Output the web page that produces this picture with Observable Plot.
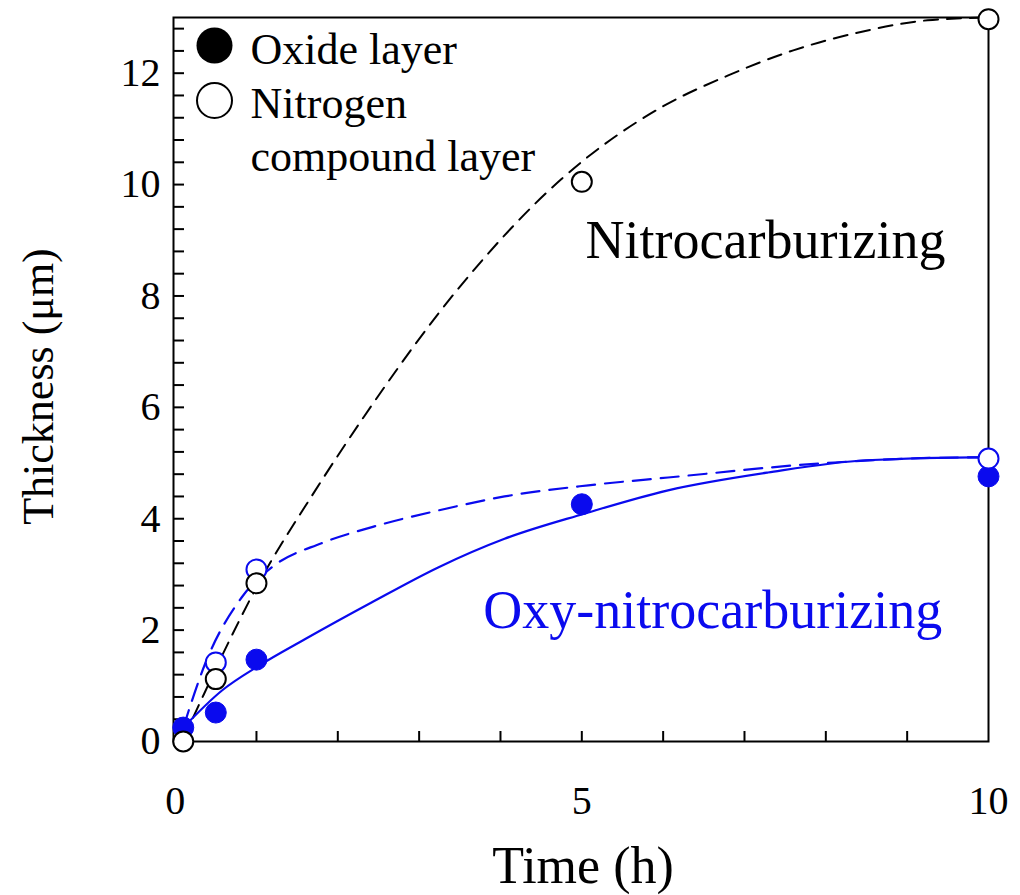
<!DOCTYPE html>
<html>
<head>
<meta charset="utf-8">
<script src="https://cdn.jsdelivr.net/npm/d3@7"></script>
<script src="https://cdn.jsdelivr.net/npm/@observablehq/plot@0.6"></script>
<style>
  html, body { margin: 0; padding: 0; background: #fff; }
</style>
</head>
<body>
<div id="chart"></div>
<script>
// ---- measured points ----
const oxideTime = [0.1, 0.5, 1, 5, 10];
const oxideThickness = [0.25, 0.52, 1.47, 4.26, 4.76];

const oxyCompoundTime = [0.5, 1, 10];
const oxyCompoundThickness = [1.42, 3.09, 5.08];

const nitroCompoundTime = [0.1, 0.5, 1, 5, 10];
const nitroCompoundThickness = [0, 1.12, 2.84, 10.05, 12.97];

// ---- fitted curves ----
const nitroFitTime = [0.1, 0.3, 0.58, 1.03, 1.72, 2.33, 3.52, 4.75, 5.98, 6.8, 7.6, 8.43, 9.25, 10];
const nitroFitThickness = [0.05, 0.68, 1.55, 2.85, 4.5, 5.85, 8.2, 10.1, 11.39, 11.96, 12.41, 12.74, 12.95, 13.0];

const oxyCompoundFitTime = [0.1, 0.37, 0.82, 1.19, 1.8, 2.42, 3.24, 4.05, 5.08, 6.06, 8.1, 9.74, 10];
const oxyCompoundFitThickness = [0.25, 1.4, 2.59, 3.13, 3.56, 3.85, 4.15, 4.4, 4.6, 4.74, 5.01, 5.1, 5.1];

const oxideFitTime = [0.1, 0.58, 1.03, 1.6, 2.42, 3.24, 4.05, 5.03, 6.06, 7.29, 8.5, 9.82, 10];
const oxideFitThickness = [0.25, 0.92, 1.36, 1.84, 2.5, 3.13, 3.64, 4.09, 4.51, 4.83, 5.05, 5.1, 5.1];

// ---- ticks and labels ----
const xTickLabels = [0, 5, 10];
const xMinorTicks = [1, 2, 3, 4, 5, 6, 7, 8, 9];
const yTickLabels = [0, 2, 4, 6, 8, 10, 12];
const yMinorTicks = d3.range(1, 33).map(i => i * 0.4);

const xTitle = "Time (h)";
const yTitle = "Thickness (μm)";
const legendLabels = ["Oxide layer", "Nitrogen", "compound layer"];
const annotationLabels = ["Nitrocarburizing", "Oxy-nitrocarburizing"];

const blue = "#0a0aee";
const serif = "'Liberation Serif', 'Times New Roman', Times, serif";

const zip = (xs, ys) => xs.map((x, i) => ({time: x, thickness: ys[i]}));

const chart = Plot.plot({
  width: 1020,
  height: 895,
  marginLeft: 173,
  marginRight: 32,
  marginTop: 17,
  marginBottom: 154,
  x: {domain: [-0.02, 10], label: null},
  y: {domain: [0, 13], label: null},
  style: {fontFamily: serif, background: "#fff", color: "#000"},
  marks: [
    Plot.frame({stroke: "#000", strokeWidth: 2}),
    Plot.tickY(yMinorTicks, {y: d => d, insetRight: 815 - 11, stroke: "#000", strokeWidth: 2}),
    Plot.tickX(xMinorTicks, {x: d => d, insetTop: 724 - 10, stroke: "#000", strokeWidth: 2}),
    Plot.axisX(xTickLabels, {tickSize: 0, tickPadding: 44, fontSize: 40, label: null, tickFormat: d => String(d)}),
    Plot.axisY(yTickLabels, {tickSize: 0, tickPadding: 13, fontSize: 40, label: null, tickFormat: d => String(d)}),
    Plot.text([xTitle], {text: d => d, frameAnchor: "bottom", lineAnchor: "bottom", textAnchor: "middle", dx: 2, dy: 141, fontSize: 52, fill: "#000"}),
    Plot.text([yTitle], {text: d => d, frameAnchor: "left", lineAnchor: "middle", textAnchor: "middle", dx: -135, dy: 7, rotate: -90, fontSize: 44, fill: "#000"}),

    // curves
    Plot.line(zip(nitroFitTime, nitroFitThickness), {x: "time", y: "thickness", stroke: "#000", strokeWidth: 2, strokeDasharray: "14,9", curve: "monotone-x"}),
    Plot.line(zip(oxyCompoundFitTime, oxyCompoundFitThickness), {x: "time", y: "thickness", stroke: blue, strokeWidth: 2.2, strokeDasharray: "18,10", curve: "monotone-x"}),
    Plot.line(zip(oxideFitTime, oxideFitThickness), {x: "time", y: "thickness", stroke: blue, strokeWidth: 2.2, curve: "monotone-x"}),

    // points
    Plot.dot(zip(oxideTime, oxideThickness), {x: "time", y: "thickness", r: 10.5, fill: blue, stroke: blue, strokeWidth: 1}),
    Plot.dot(zip(oxyCompoundTime, oxyCompoundThickness), {x: "time", y: "thickness", r: 10, fill: "#fff", stroke: blue, strokeWidth: 2}),
    Plot.dot(zip(nitroCompoundTime, nitroCompoundThickness), {x: "time", y: "thickness", r: 10, fill: "#fff", stroke: "#000", strokeWidth: 2}),

    // annotations
    Plot.text([annotationLabels[0]], {text: d => d, x: 9.47, y: 9.0, textAnchor: "end", fontSize: 54, fill: "#000"}),
    Plot.text([annotationLabels[1]], {text: d => d, x: 9.43, y: 2.34, textAnchor: "end", fontSize: 54, fill: blue}),

    // legend
    Plot.dot([legendLabels[0]], {frameAnchor: "top-left", dx: 41, dy: 28, r: 18, fill: "#000"}),
    Plot.dot([legendLabels[1]], {frameAnchor: "top-left", dx: 41, dy: 83, r: 17.5, fill: "#fff", stroke: "#000", strokeWidth: 2}),
    Plot.text([legendLabels[0]], {text: d => d, frameAnchor: "top-left", lineAnchor: "middle", dx: 77, dy: 32, textAnchor: "start", fontSize: 44, fill: "#000"}),
    Plot.text([legendLabels[1]], {text: d => d, frameAnchor: "top-left", lineAnchor: "middle", dx: 77, dy: 86, textAnchor: "start", fontSize: 44, fill: "#000"}),
    Plot.text([legendLabels[2]], {text: d => d, frameAnchor: "top-left", lineAnchor: "middle", dx: 77, dy: 139, textAnchor: "start", fontSize: 44, fill: "#000"})
  ]
});
document.getElementById("chart").appendChild(chart);
</script>
</body>
</html>
